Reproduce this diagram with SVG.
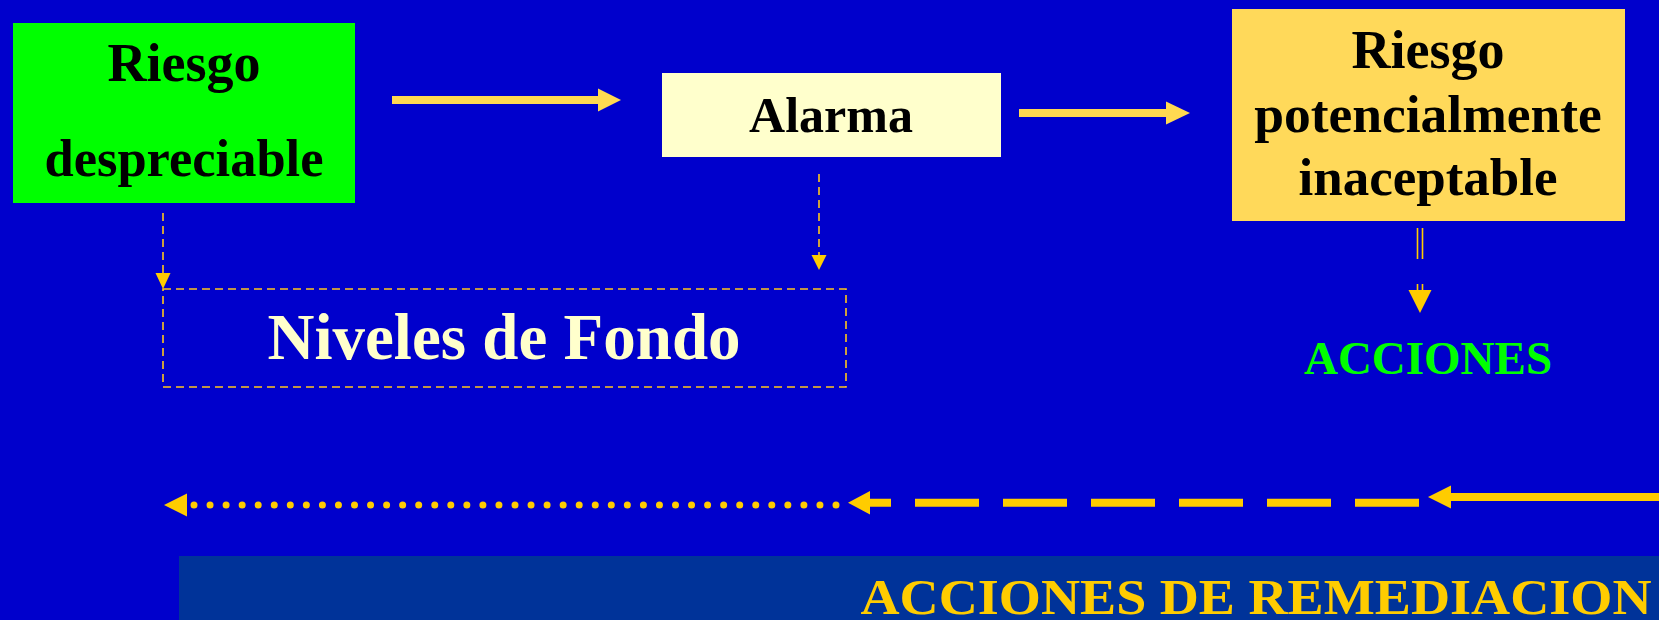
<svg xmlns="http://www.w3.org/2000/svg" width="1659" height="620" viewBox="0 0 1659 620">
<style>
.t{font-family:"Liberation Serif","Times New Roman",serif;font-weight:bold;text-anchor:middle}
.blk{fill:#000000}
.arw{fill:#FFD951}
.ah{fill:#FFCC00}
.thin{stroke:#FFC61A;stroke-width:1.6;stroke-dasharray:8 5;fill:none}
</style>
<rect x="0" y="0" width="1659" height="620" fill="#0000CC"/>
<g id="riesgo-despreciable">
<rect x="13" y="23" width="342" height="180" fill="#00FF00"/>
<text class="t blk" x="184" y="81" font-size="54">Riesgo</text>
<text class="t blk" x="184" y="176" font-size="52.5">despreciable</text>
</g>
<g id="alarma">
<rect x="662" y="73" width="339" height="84" fill="#FFFFCC"/>
<text class="t blk" x="831" y="132" font-size="50">Alarma</text>
</g>
<g id="riesgo-potencial">
<rect x="1232" y="9" width="393" height="212" fill="#FFD95A"/>
<text class="t blk" x="1428" y="68" font-size="54">Riesgo</text>
<text class="t blk" x="1428" y="132" font-size="53.5">potencialmente</text>
<text class="t blk" x="1428" y="195" font-size="53">inaceptable</text>
</g>
<g id="niveles-fondo">
<rect x="163" y="289" width="683" height="98" class="thin"/>
<text class="t" x="504" y="359" font-size="65" fill="#FFFFCC">Niveles de Fondo</text>
</g>
<g id="acciones">
<text class="t" x="1428" y="374" font-size="47" fill="#00FF00">ACCIONES</text>
</g>
<g id="remediacion">
<rect x="179" y="556" width="1480" height="64" fill="#003399"/>
<text class="t" x="1256" y="614" font-size="51" fill="#FFCC00" textLength="791" lengthAdjust="spacingAndGlyphs">ACCIONES DE REMEDIACION</text>
</g>
<g id="connectors">
<line x1="392" y1="100" x2="600" y2="100" stroke="#FFD951" stroke-width="8"/>
<polygon class="arw" points="598,88.5 621,100 598,111.5"/>
<line x1="1019" y1="113" x2="1168" y2="113" stroke="#FFD951" stroke-width="8"/>
<polygon class="arw" points="1166,101.5 1190,113 1166,124.5"/>
<line x1="163" y1="213" x2="163" y2="274" class="thin"/>
<polygon class="ah" points="155.5,273 170.5,273 163,289"/>
<line x1="819" y1="174" x2="819" y2="256" class="thin"/>
<polygon class="ah" points="811.5,255 826.5,255 819,270"/>
<g stroke="#FFCC00" stroke-width="1.6">
<line x1="1417.5" y1="228" x2="1417.5" y2="259"/>
<line x1="1422.5" y1="228" x2="1422.5" y2="259"/>
<line x1="1417.5" y1="284" x2="1417.5" y2="291"/>
<line x1="1422.5" y1="284" x2="1422.5" y2="291"/>
</g>
<polygon class="ah" points="1408.5,290 1431.5,290 1420,313"/>
<line x1="1450" y1="497" x2="1659" y2="497" stroke="#FFCC00" stroke-width="8"/>
<polygon class="ah" points="1451,485.5 1428,497 1451,508.5"/>
<line x1="1419" y1="502.7" x2="870" y2="502.7" stroke="#FFCC00" stroke-width="8" stroke-dasharray="64 24"/>
<polygon class="ah" points="870,491 848,502.7 870,514.5"/>
<line x1="194" y1="505" x2="852" y2="505" stroke="#FFCC00" stroke-width="7" stroke-linecap="round" stroke-dasharray="0 16.05"/>
<polygon class="ah" points="187,493.5 164,505 187,516.5"/>
</g>
</svg>
